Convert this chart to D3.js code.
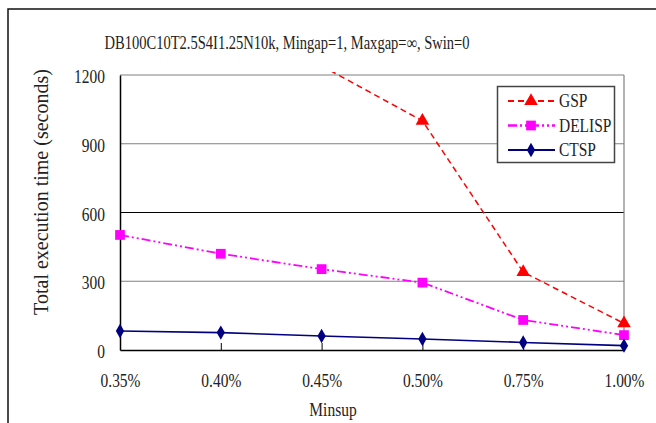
<!DOCTYPE html>
<html><head><meta charset="utf-8">
<script src="https://cdn.jsdelivr.net/npm/d3@7"></script>
<style>body{margin:0;background:#fff}svg{display:block}</style>
</head><body>
<svg id="c" width="656" height="423"></svg>
<script>
const categories = ["0.35%","0.40%","0.45%","0.50%","0.75%","1.00%"];
const gsp    = [null, null, 1240, 1000, 340, 116];
const delisp = [502, 420, 353, 294, 131, 65];
const ctsp   = [83, 76, 61, 48, 33, 19];
const yTicks = [0, 300, 600, 900, 1200];
const titleText = "DB100C10T2.5S4I1.25N10k, Mingap=1, Maxgap=\u221E, Swin=0";

const FONT = "'Liberation Serif', 'Times New Roman', Times, serif";
const SX = 0.86;
const svg = d3.select("#c");
function txt(sel, size){ return sel.style("font-family", FONT).style("font-size",(size||18)+"px").style("fill","#222"); }
function label(parent, px, py, s, anchor){
  const g = parent.append("g").attr("transform", `translate(${px},${py}) scale(${SX},1)`);
  return txt(g.append("text").attr("text-anchor", anchor || "start").text(s));
}
const L = 120, R = 624, T = 75, B = 350;
const x = d3.scalePoint().domain(categories).range([L, R]);
const y = d3.scaleLinear().domain([0, 1200]).range([B, T]);

// outer frame
svg.append("path").attr("d", `M8,423 V9 H656`).attr("fill","none").attr("stroke","#111").attr("stroke-width",1.5);

// title
txt(svg.append("text").attr("x", 287).attr("y", 49).attr("text-anchor","middle")
  .attr("textLength", 365).attr("lengthAdjust","spacingAndGlyphs").text(titleText), 18);

// gridlines
svg.append("g").selectAll("line").data(yTicks.filter(d => d > 0)).join("line")
  .attr("x1", L).attr("x2", R).attr("y1", d => y(d)).attr("y2", d => y(d))
  .attr("stroke", d => d === 600 ? "#000" : "#808080").attr("stroke-width", 1.2);
// right border
svg.append("line").attr("x1", R).attr("x2", R).attr("y1", T).attr("y2", B).attr("stroke","#808080").attr("stroke-width",1.2);

// axes
const yAxis = d3.axisLeft(y).tickValues(yTicks).tickFormat(d3.format("d")).tickSize(0).tickPadding(15);
const gy = svg.append("g").attr("transform", `translate(${L},0)`).call(yAxis);
gy.select(".domain").attr("stroke","#000").attr("stroke-width",1.5);
txt(gy.selectAll("text")).attr("x", -15/SX).attr("transform", `scale(${SX},1)`).attr("dy","0.42em");

const xAxis = d3.axisBottom(x).tickSize(-7).tickPadding(37).tickSizeOuter(0);
const gx = svg.append("g").attr("transform", `translate(0,${B})`).call(xAxis);
gx.select(".domain").attr("stroke","#000").attr("stroke-width",1.5);
gx.selectAll(".tick line").attr("stroke","#000").attr("stroke-width",1);
txt(gx.selectAll("text")).attr("transform", `scale(${SX},1)`).attr("dy","0");

// axis titles
label(svg, 333, 416, "Minsup", "middle");
txt(svg.append("text").attr("transform","translate(48,192) rotate(-90)").attr("text-anchor","middle")
  .text("Total execution time (seconds)"), 20);

// clip
svg.append("clipPath").attr("id","clip").append("rect").attr("x", L-10).attr("y", T-3).attr("width", R-L+20).attr("height", B-T+13);

const series = [
  {name:"GSP", vals:gsp, color:"#ff0000", dash:"6,4", width:1.5, marker:d3.symbolTriangle, size:80},
  {name:"DELISP", vals:delisp, color:"#ff00ff", dash:"9,3,2,3,2,3", width:1.8, marker:d3.symbolSquare, size:95},
  {name:"CTSP", vals:ctsp, color:"#000080", dash:null, width:1.6, marker:d3.symbolDiamond, size:60},
];
const line = d3.line().defined(d => d.v != null).x(d => x(d.c)).y(d => y(d.v));
const plot = svg.append("g").attr("clip-path","url(#clip)");
series.forEach(s => {
  const pts = categories.map((c,i) => ({c, v:s.vals[i]}));
  plot.append("path").datum(pts).attr("d", line).attr("fill","none")
    .attr("stroke", s.color).attr("stroke-width", s.width).attr("stroke-dasharray", s.dash);
  plot.selectAll(null).data(pts.filter(d => d.v != null && d.v <= 1200)).join("path")
    .attr("transform", d => `translate(${x(d.c)},${y(d.v)})`)
    .attr("d", d3.symbol(s.marker, s.size)).attr("fill", s.color);
});

// legend
const lg = svg.append("g");
lg.append("rect").attr("x",497.5).attr("y",86.5).attr("width",117).attr("height",76).attr("fill","#fff").attr("stroke","#444").attr("stroke-width",1.5);
series.forEach((s,i) => {
  const yy = 101 + i*24.5;
  lg.append("line").attr("x1",508).attr("x2",555).attr("y1",yy).attr("y2",yy)
    .attr("stroke", s.color).attr("stroke-width", s.width+0.5).attr("stroke-dasharray", s.dash);
  lg.append("path").attr("transform",`translate(531,${yy})`).attr("d", d3.symbol(s.marker, s.size)).attr("fill", s.color);
  label(lg, 559, yy + 6, s.name);
});
</script>
</body></html>
